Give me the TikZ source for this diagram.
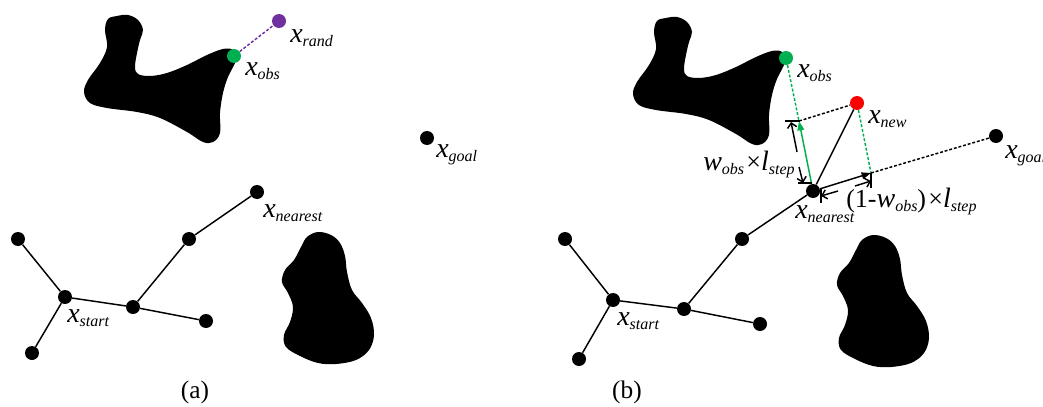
\documentclass[tikz,border=0pt]{standalone}
\usepackage{fontspec}
\setmainfont{Liberation Serif}
\usetikzlibrary{arrows.meta}
\definecolor{mypurple}{RGB}{112,48,160}
\definecolor{mygreen}{RGB}{0,176,80}
\definecolor{myred}{RGB}{255,0,0}
\newcommand\xl[2]{{\fontsize{21}{22}\selectfont\itshape #1}\raisebox{-3.5pt}{\fontsize{12}{12}\selectfont\itshape #2}}
\newcommand\bigtxt[1]{{\fontsize{19.5}{20}\selectfont #1}}
\begin{document}
\begin{tikzpicture}[x=0.75pt,y=-0.75pt,
  dot/.style={circle,fill=black,inner sep=0pt,minimum size=10.5pt},
  edge/.style={line width=1.1pt},
  bdash/.style={line width=1.1pt,dash pattern=on 2.2pt off 1.4pt},
  gdash/.style={line width=1.1pt,dash pattern=on 2.2pt off 1.4pt,mygreen},
  pdash/.style={line width=1.1pt,dash pattern=on 2.2pt off 1.4pt,mypurple},
  lbl/.style={anchor=base west,inner sep=0pt},
  tick/.style={line width=1.1pt},
  dimarrow/.style={line width=1.1pt,-{Straight Barb[length=3.5pt,width=7pt]}},
  mainarrow/.style={line width=1.1pt,-{Triangle[length=7pt,width=5pt]}},
  obst/.style={fill=black}]
\useasboundingbox (0,0) rectangle (1043,407);

% ---------- obstacles ----------
\def\obsone{plot[smooth cycle,tension=0.6] coordinates{(233,50)(236,60)(228,77)(223,93)(220,113)(220,133)(213,142)(203,142)(187,132)(160,118)(137,112)(107,108)(90,103)(84,92)(88,80)(100,63)(107,47)(105,30)(108,19)(117,16)(128,15)(138,20)(143,30)(140,40)(137,53)(135,67)(138,74)(150,76)(167,73)(187,65)(207,55)(223,49)}}
\def\obstwo{plot[smooth cycle,tension=0.6] coordinates{(318,232)(331,235)(340,243)(345,256)(347,272)(352,290)(362,303)(371,318)(374,335)(369,350)(356,360)(336,364)(318,363)(300,356)(286,347)(284,335)(290,322)(293,307)(288,293)(282,282)(285,270)(294,260)(301,247)(307,237)}}
\fill[obst] \obsone;
\fill[obst] \obstwo;
\begin{scope}[shift={(549,2)}]
\fill[obst] \obsone;
\end{scope}
\begin{scope}[shift={(555,3)}]
\fill[obst] \obstwo;
\end{scope}

% ---------- panel (a) ----------
\node[dot,fill=mypurple] (arand) at (279,21) {};
\node[dot,fill=mygreen] (aobs) at (234,56) {};
\draw[pdash] (aobs) -- (arand);
\node[dot] (agoal) at (427,138) {};
\node[dot] (an1) at (18,239) {};
\node[dot] (astart) at (65,297) {};
\node[dot] (abl) at (32,353) {};
\node[dot] (amid) at (133,307) {};
\node[dot] (abr) at (206,321) {};
\node[dot] (aup) at (189,239) {};
\node[dot] (anear) at (257,192) {};
\draw[edge] (an1) -- (astart) -- (abl);
\draw[edge] (astart) -- (amid) -- (abr);
\draw[edge] (amid) -- (aup) -- (anear);

\node[lbl] (larand) at (290,42) {\xl{x}{rand}};
\node[lbl] (laobs) at (245,75) {\xl{x}{obs}};
\node[lbl] (lagoal) at (436,157) {\xl{x}{goal}};
\node[lbl] (lanear) at (263,217) {\xl{x}{nearest}};
\node[lbl] (lastart) at (67,322) {\xl{x}{start}};

% ---------- panel (b) ----------
\node[dot] (bn1) at (565,239) {};
\node[dot] (bstart) at (613,300) {};
\node[dot] (bbl) at (579,359) {};
\node[dot] (bmid) at (684,309) {};
\node[dot] (bbr) at (760,324) {};
\node[dot] (bup) at (742,239) {};
\node[dot] (bnear) at (813,191) {};
\node[dot] (bgoal) at (996,136) {};
\node[dot,fill=myred] (bnew) at (857,103) {};
\node[dot,fill=mygreen] (bobs) at (786,58) {};
\draw[edge] (bn1) -- (bstart) -- (bbl);
\draw[edge] (bstart) -- (bmid) -- (bbr);
\draw[edge] (bmid) -- (bup) -- (bnear);

\coordinate (P1) at (799,121);
\coordinate (P2) at (871,173);

\draw[gdash] (bobs) -- (P1);
\draw[bdash] (P1) -- (bnew);
\draw[edge] (bnear) -- (bnew);
\draw[gdash] (bnew) -- (P2);
\draw[bdash] (P2) -- (bgoal);
\draw[mainarrow,mygreen] (bnear) -- (P1);
\draw[mainarrow] (bnear) -- (P2);

% ticks
\coordinate (t1a) at (785,121); \coordinate (t1b) at (800,121);
\coordinate (t2a) at (798,183); \coordinate (t2b) at (812,183);
\coordinate (t3a) at (871,173); \coordinate (t3b) at (871,188);
\coordinate (t4a) at (821,188); \coordinate (t4b) at (821,203);
\draw[tick] (t1a) -- (t1b);
\draw[tick] (t2a) -- (t2b);
\draw[tick] (t3a) -- (t3b);
\draw[tick] (t4a) -- (t4b);

% dimension arrows
\coordinate (d1s) at (797,152); \coordinate (d1e) at (791,122);
\coordinate (d2s) at (799,167); \coordinate (d2e) at (803,183);
\coordinate (d3s) at (838,191); \coordinate (d3e) at (821,196);
\coordinate (d4s) at (855,186); \coordinate (d4e) at (871,181);
\draw[dimarrow] (d1s) -- (d1e);
\draw[dimarrow] (d2s) -- (d2e);
\draw[dimarrow] (d3s) -- (d3e);
\draw[dimarrow] (d4s) -- (d4e);

\node[lbl] (lbobs) at (797,77) {\xl{x}{obs}};
\node[lbl] (lbnew) at (868,123) {\xl{x}{new}};
\node[lbl] (lbgoal) at (1005,158) {\xl{x}{goal}};
\node[lbl] (lbnear) at (795,218) {\xl{x}{nearest}};
\node[lbl] (lbstart) at (617,325) {\xl{x}{start}};
\node[lbl] (lw) at (703,170) {\xl{w}{obs}\,\bigtxt{×}\xl{l}{step}};
\node[lbl] (lw2) at (846,207) {\bigtxt{(1-}\xl{w}{obs}\bigtxt{)}\,\bigtxt{×}\xl{l}{step}};

% captions
\node (capa) at (195,392) {\fontsize{19}{20}\selectfont (a)};
\node (capb) at (627,392) {\fontsize{19}{20}\selectfont (b)};
\end{tikzpicture}
\end{document}
